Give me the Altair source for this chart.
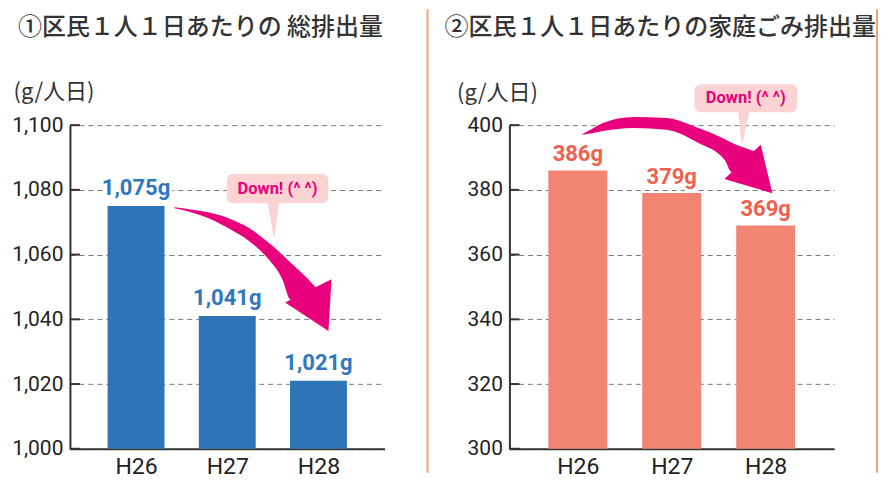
import altair as alt
import pandas as pd

# ---------------- data ----------------
years = ["H26", "H27", "H28"]
total_values = [1075, 1041, 1021]
total_labels = ["1,075g", "1,041g", "1,021g"]
home_values = [386, 379, 369]
home_labels = ["386g", "379g", "369g"]
total_ticks = [1000, 1020, 1040, 1060, 1080, 1100]
home_ticks = [300, 320, 340, 360, 380, 400]

title_total = "①区民１人１日あたりの 総排出量"
title_home = "②区民１人１日あたりの家庭ごみ排出量"
unit_title = "(g/人日)"
callout_text = "Down! (^ ^)"

# annotation geometry, in data units (x = bar index, y = value)
# arrow shaft: upper / lower edge sampled along x
total_arrow_x = [0.422, 0.602, 0.814, 1.027, 1.239, 1.451, 1.610, 1.684, 1.875, 2.002]
total_arrow_top = [1074.6, 1073.9, 1072.9, 1071.1, 1068.2, 1063.7, 1059.8, 1057.8, 1052.8, 1048.8]
total_arrow_bot = [1074.3, 1073.1, 1071.0, 1067.9, 1064.2, 1058.6, 1051.9, 1046.3, 1044.1, 1042.6]
total_head = (1.999, 1042.6)
total_box = (0.995, 2.108, 1084.9, 1075.9)
total_pointer_x = [1.504, 1.514]
total_pointer_y = [1076.5, 1065.7]
total_text = (1.551, 1080.2)

home_arrow_x = [0.047, 0.150, 0.253, 0.593, 0.944, 1.284, 1.562, 1.634, 1.871, 1.964]
home_arrow_top = [397.2, 398.8, 400.5, 402.5, 402.2, 399.1, 395.7, 394.6, 392.0, 391.1]
home_arrow_bot = [397.0, 397.5, 398.1, 399.1, 398.6, 394.5, 389.3, 385.5, 383.7, 382.8]
home_head = (1.913, 383.8)
home_box = (1.243, 2.335, 412.6, 404.0)
home_pointer_x = [1.768, 1.748]
home_pointer_y = [404.6, 394.5]
home_text = (1.789, 408.3)

MAGENTA = "#e8007d"
PINK = "#fbd3d3"
ORANGE = "#f5a36e"
NUM_FONT = "Roboto"
CJK_FONT = "Noto Sans CJK JP"


def panel(values, labels, ticks, ydom, xdom, width, height, bar_color, label_color,
          bar_w, label_dy, title, title_dx, unit_x, unit_y,
          ax, atop, abot, head, head_size, head_angle, box, px, py, tpos, sep_x):
    n = len(years)
    bars_df = pd.DataFrame({"i": list(range(n)), "v": values, "label": labels})
    xs = alt.Scale(domain=xdom, nice=False, zero=False)
    ys = alt.Scale(domain=ydom, nice=False, zero=False)
    label_expr = "[" + ",".join("'%s'" % y for y in years) + "][datum.value]"
    x_axis = alt.Axis(values=list(range(n)), labelExpr=label_expr, title=None, ticks=False,
                      grid=False, domainColor="#333", domainWidth=2, labelFontSize=23,
                      labelFont=NUM_FONT, labelColor="#222", labelPadding=7)
    y_axis = alt.Axis(values=ticks, format=",d", title=unit_title, titleAngle=0,
                      titleX=unit_x, titleY=unit_y, titleAlign="left", titleBaseline="middle",
                      titleFontSize=22, titleFont=CJK_FONT, titleFontWeight="normal",
                      titleColor="#333", ticks=False, labelPadding=7, labelFontSize=21,
                      labelFont=NUM_FONT, labelColor="#222", domainColor="#333",
                      domainWidth=2, grid=True, gridDash=[5, 4], gridColor="#777",
                      gridWidth=1)

    def X(f):
        return alt.X(f, type="quantitative", scale=xs, axis=x_axis)

    def Y(f):
        return alt.Y(f, type="quantitative", scale=ys, axis=y_axis)

    base = alt.Chart(bars_df)
    bars = base.mark_bar(color=bar_color, width=bar_w).encode(
        x=X("i"), y=Y("v"), y2=alt.datum(ydom[0]))

    ticks_df = pd.DataFrame({"t": ticks})
    tick_marks = alt.Chart(ticks_df).mark_rule(color="#333", strokeWidth=2).encode(
        x=alt.value(0), x2=alt.value(10), y=Y("t"))

    halo = base.mark_text(dy=label_dy, baseline="alphabetic", fontSize=22, font=NUM_FONT,
                          fontWeight="bold", stroke="white", strokeWidth=6,
                          strokeJoin="round", color="white").encode(
        x=X("i"), y=Y("v"), text="label:N")
    text = base.mark_text(dy=label_dy, baseline="alphabetic", fontSize=22, font=NUM_FONT,
                          fontWeight="bold", color=label_color).encode(
        x=X("i"), y=Y("v"), text="label:N")

    shaft_df = pd.DataFrame({"x": ax, "top": atop, "bot": abot})
    shaft = alt.Chart(shaft_df).mark_area(color=MAGENTA, interpolate="monotone", opacity=1).encode(
        x=X("x"), y=Y("top"), y2="bot")

    head_df = pd.DataFrame({"x": [head[0]], "y": [head[1]]})
    head_mark = alt.Chart(head_df).mark_point(
        shape="triangle-up", filled=True, size=head_size, angle=head_angle,
        color=MAGENTA, opacity=1, strokeWidth=0).encode(x=X("x"), y=Y("y"))

    box_df = pd.DataFrame({"x1": [box[0]], "x2": [box[1]], "y1": [box[2]], "y2": [box[3]]})
    box_mark = alt.Chart(box_df).mark_rect(color=PINK, cornerRadius=6).encode(
        x=X("x1"), x2="x2", y=Y("y1"), y2="y2")

    ptr_df = pd.DataFrame({"x": px, "y": py, "w": [12, 0], "o": [0, 1]})
    ptr = alt.Chart(ptr_df).mark_trail(color=PINK).encode(
        x=X("x"), y=Y("y"), size=alt.Size("w:Q", scale=None, legend=None), order="o:Q")

    ct_df = pd.DataFrame({"x": [tpos[0]], "y": [tpos[1]], "t": [callout_text]})
    ct = alt.Chart(ct_df).mark_text(color=MAGENTA, fontSize=16.5, fontWeight="bold",
                                    font=NUM_FONT, baseline="middle").encode(
        x=X("x"), y=Y("y"), text="t:N")

    sep_df = pd.DataFrame({"k": [0]})
    sep = alt.Chart(sep_df).mark_rule(color=ORANGE, strokeWidth=2).encode(
        x=alt.value(sep_x), y=alt.value(-116), y2=alt.value(348))

    return alt.layer(bars, tick_marks, halo, text, shaft, head_mark, ptr, box_mark, ct, sep).properties(
        width=width, height=height,
        title=alt.TitleParams(text=title, anchor="start", frame="group", dx=title_dx,
                              offset=-32, fontSize=24, font=CJK_FONT, fontWeight=500,
                              color="#333"))


left = panel(total_values, total_labels, total_ticks, [1000, 1100], [-0.67, 2.67], 315, 324,
             "#2e75b8", "#2f78bf", 57, -11, title_total, -52, -57, -34,
             total_arrow_x, total_arrow_top, total_arrow_bot, total_head, 2700, 153.4,
             total_box, total_pointer_x, total_pointer_y, total_text, 358)

right = panel(home_values, home_labels, home_ticks, [300, 400], [-0.675, 2.675], 325, 324,
              "#f18472", "#f0604e", 59, -9, title_home, -65, -53, -33,
              home_arrow_x, home_arrow_top, home_arrow_bot, home_head, 2500, 136.5,
              home_box, home_pointer_x, home_pointer_y, home_text, 368)

chart = alt.hconcat(left, right, spacing=16).properties(
    padding={"left": 3, "top": 0, "right": 0, "bottom": 0},
    background="white",
).configure_view(stroke=None)

chart.save("out.html", embed_options={"renderer": "svg", "actions": False})
